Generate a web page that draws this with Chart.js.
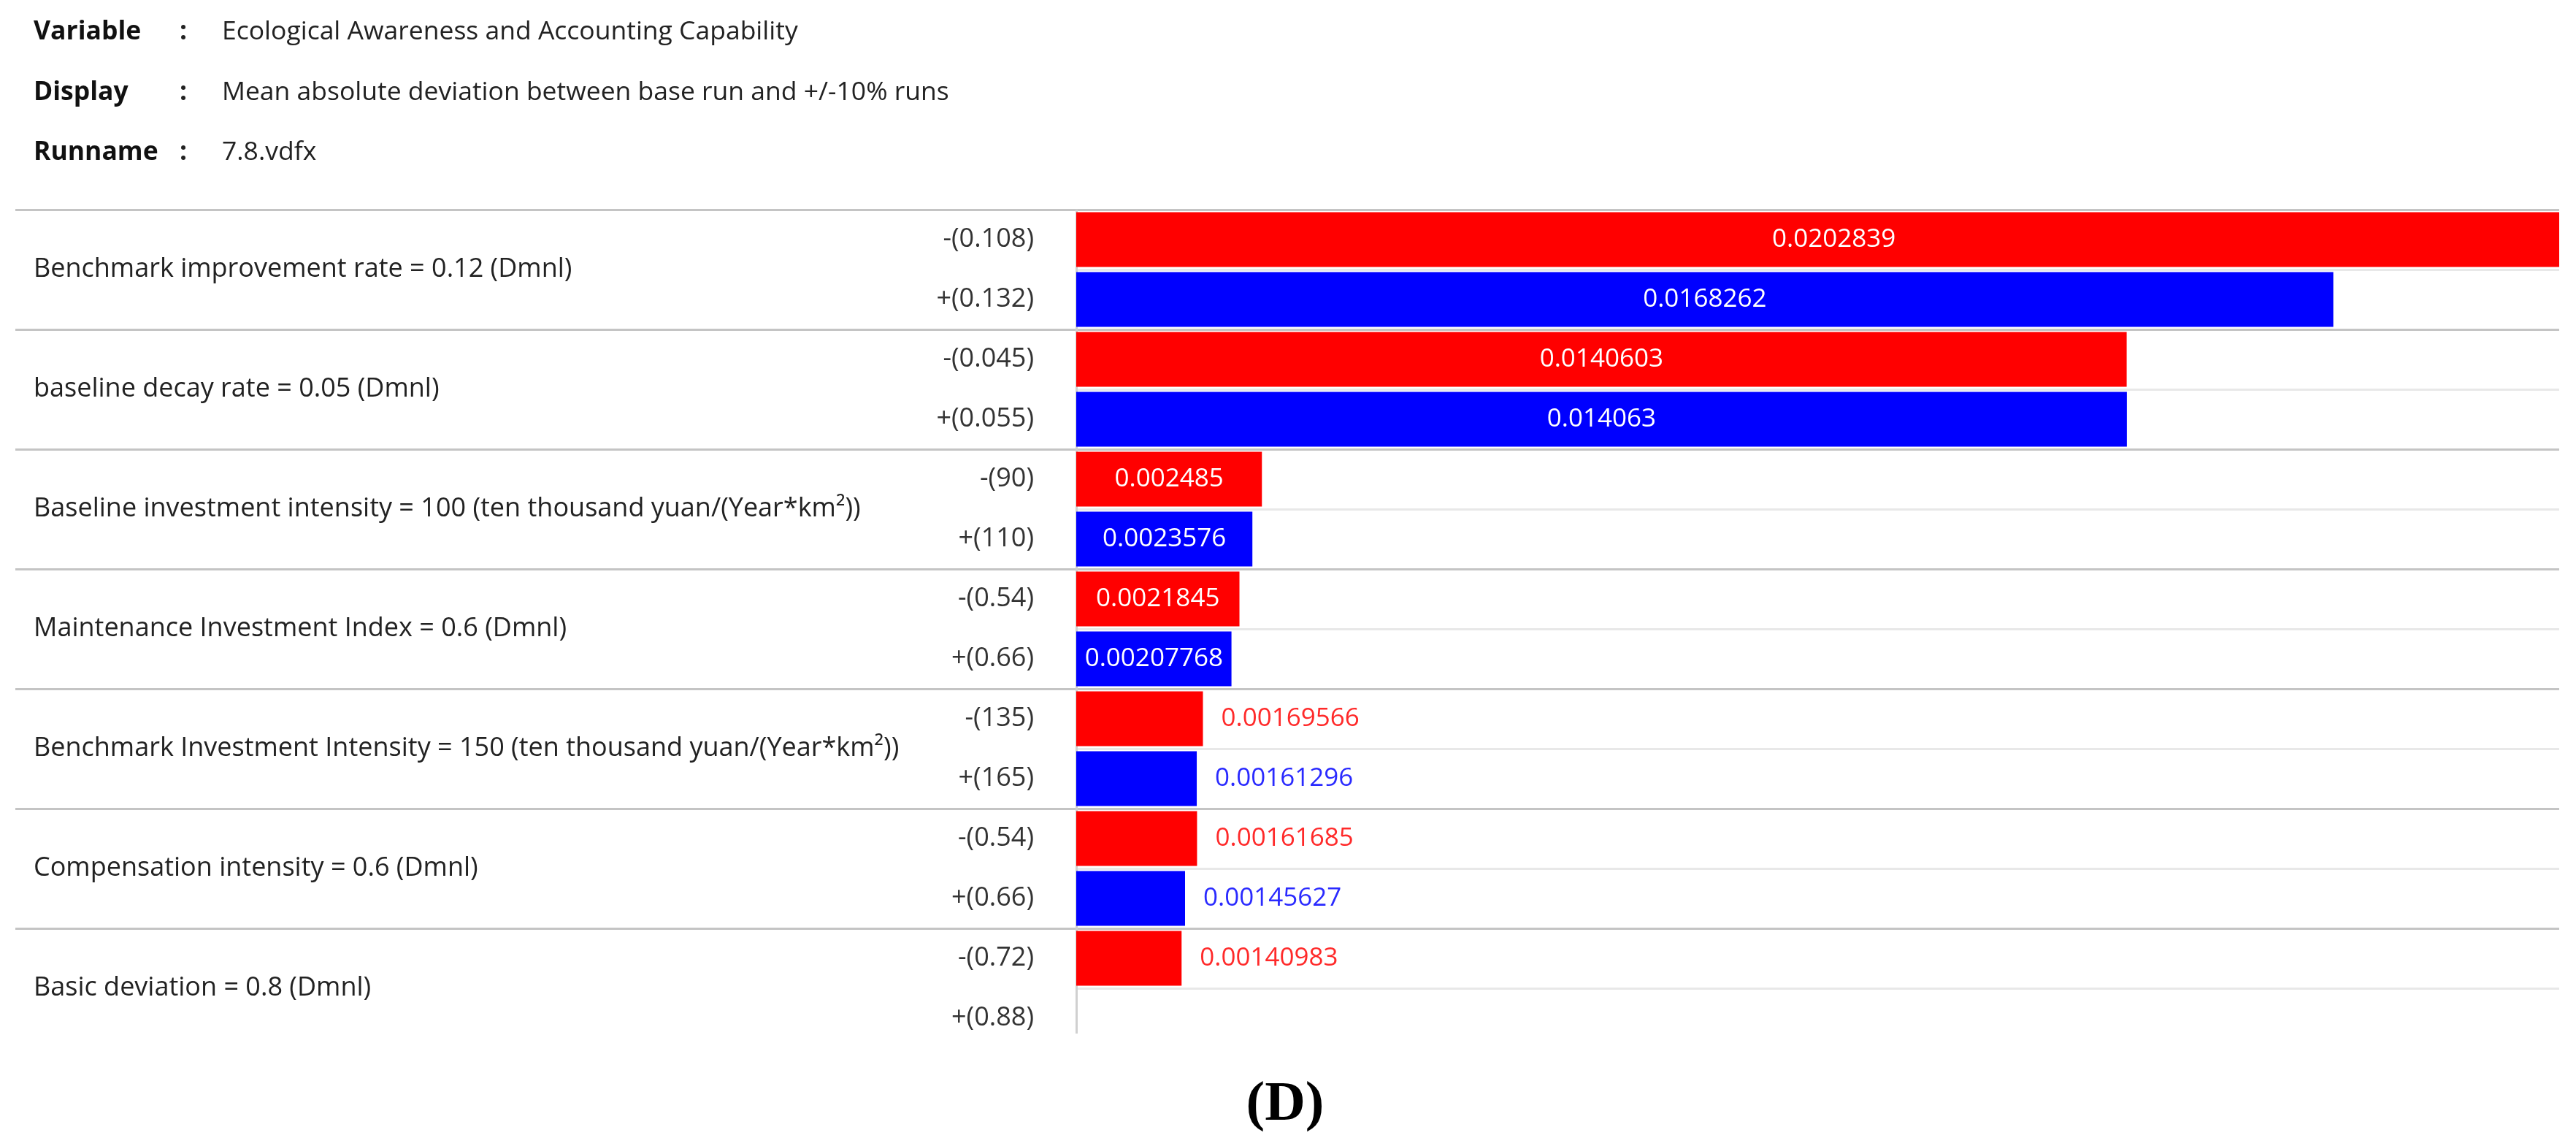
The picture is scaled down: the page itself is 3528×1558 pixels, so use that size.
<!DOCTYPE html>
<html>
<head>
<meta charset="utf-8">
<script src="https://cdn.jsdelivr.net/npm/chart.js@4.4.1/dist/chart.umd.min.js"></script>
<style>
    body { margin: 0; background: #fff; width: 3528px; height: 1558px; position: relative; overflow: hidden; font-family: "Open Sans", sans-serif; }
    #chart { position: absolute; left: 0; top: 0; }
    .meta { position: absolute; left: 0; font-size: 35.5px; color: #222; line-height: 40px; white-space: nowrap; }
    .meta b { position: absolute; left: 46px; font-weight: 700; color: #111; }
    .meta .colon { position: absolute; left: 246px; font-weight: 700; }
    .meta .val { position: absolute; left: 304px; }
    #panel { position: absolute; left: 1760px; top: 1507px; transform: translate(-50%, -50%); font-family: "Liberation Serif", serif; font-weight: 700; font-size: 77px; line-height: 1; color: #000; }
</style>
</head>
<body>
<canvas id="chart" width="3528" height="1558"></canvas>
<div class="meta" style="top:20px"><b>Variable</b><span class="colon">:</span><span class="val">Ecological Awareness and Accounting Capability</span></div>
<div class="meta" style="top:103px"><b>Display</b><span class="colon">:</span><span class="val">Mean absolute deviation between base run and +/-10% runs</span></div>
<div class="meta" style="top:185px"><b>Runname</b><span class="colon">:</span><span class="val">7.8.vdfx</span></div>
<div id="panel">(D)</div>
<script>
// parameters tested
const categories = [
    "Benchmark improvement rate = 0.12 (Dmnl)",
    "baseline decay rate = 0.05 (Dmnl)",
    "Baseline investment intensity = 100 (ten thousand yuan/(Year*km²))",
    "Maintenance Investment Index = 0.6 (Dmnl)",
    "Benchmark Investment Intensity = 150 (ten thousand yuan/(Year*km²))",
    "Compensation intensity = 0.6 (Dmnl)",
    "Basic deviation = 0.8 (Dmnl)",
];
const minusLabels = ["-(0.108)", "-(0.045)", "-(90)", "-(0.54)", "-(135)", "-(0.54)", "-(0.72)"];
const plusLabels = ["+(0.132)", "+(0.055)", "+(110)", "+(0.66)", "+(165)", "+(0.66)", "+(0.88)"];

// mean absolute deviation, -10% and +10% runs
const minusValues = [0.0202839, 0.0140603, 0.002485, 0.0021845, 0.00169566, 0.00161685, 0.00140983];
const plusValues = [0.0168262, 0.014063, 0.0023576, 0.00207768, 0.00161296, 0.00145627, null];

const axisMax = 0.01985;

const subLabels = [];
categories.forEach((c, i) => {
    subLabels.push(minusLabels[i], plusLabels[i]);
});

Chart.defaults.font.family = "'Open Sans', sans-serif";
Chart.defaults.font.size = 36;

/*
 * Row separators that run under the labels too */
const groupLines = {
    id: "groupLines",
    beforeDatasetsDraw(chart) {
        const ctx = chart.ctx;
        const yScale = chart.scales.y;
        const area = chart.chartArea;
        const half = (yScale.getPixelForValue(1) - yScale.getPixelForValue(0)) / 2;
        ctx.save();
        ctx.strokeStyle = "#c4c4c4";
        ctx.lineWidth = 3;
        for (let i = 0; i < categories.length; i++) {
            const y = Math.round(yScale.getPixelForValue(i) - half) + 0.5;
            ctx.beginPath();
            ctx.moveTo(21, y);
            ctx.lineTo(area.right, y);
            ctx.stroke();
        }
        // left edge of the bar area
        ctx.strokeStyle = "#d0d0d0";
        ctx.beginPath();
        ctx.moveTo(area.left + 0.5, area.top);
        ctx.lineTo(area.left + 0.5, area.bottom - 20);
        ctx.stroke();
        ctx.restore();
    },
};

/*
 * Value labels: inside the bar in white, or after it in the bar colour */
const valueLabels = {
    id: "valueLabels",
    afterDatasetsDraw(chart) {
        const ctx = chart.ctx;
        ctx.save();
        ctx.font = "35px 'Open Sans', sans-serif";
        ctx.textBaseline = "middle";
        chart.data.datasets.forEach((ds, i) => {
            chart.getDatasetMeta(i).data.forEach((bar, j) => {
                const v = ds.data[j];
                if (v === null || v === undefined) return;
                const text = String(v);
                const tw = ctx.measureText(text).width;
                const w = bar.x - bar.base;
                if (tw + 8 <= w) {
                    ctx.fillStyle = "#ffffff";
                    ctx.textAlign = "center";
                    ctx.fillText(text, (bar.x + bar.base) / 2, bar.y);
                } else {
                    ctx.fillStyle = ds.textColor;
                    ctx.textAlign = "left";
                    ctx.fillText(text, bar.x + 25, bar.y);
                }
            });
        });
        ctx.restore();
    },
};

new Chart(document.getElementById("chart"), {
    type: "bar",
    data: {
        labels: categories,
        datasets: [
            {
                label: "-10%",
                data: minusValues,
                backgroundColor: "#ff0000",
                textColor: "#ff2a2a",
                borderWidth: 0,
                clip: 0,
            },
            {
                label: "+10%",
                data: plusValues,
                backgroundColor: "#0000ff",
                textColor: "#2a2aff",
                borderWidth: 0,
                clip: 0,
            },
        ],
    },
    options: {
        indexAxis: "y",
        responsive: false,
        devicePixelRatio: 1,
        animation: false,
        categoryPercentage: 1,
        barPercentage: 0.915,
        layout: {
            padding: { left: 46, top: 287, right: 23, bottom: 123 },
        },
        plugins: {
            legend: { display: false },
            tooltip: { enabled: false },
        },
        scales: {
            x: {
                display: false,
                min: 0,
                max: axisMax,
            },
            y: {
                position: "left",
                weight: 10,
                offset: true,
                grid: { display: false, drawTicks: false },
                border: { display: false },
                ticks: {
                    crossAlign: "far",
                    color: "#222",
                    padding: 0,
                },
                afterFit(scale) {
                    scale.width = 1238;
                },
            },
            y2: {
                type: "category",
                axis: "y",
                position: "left",
                weight: 0,
                labels: subLabels,
                offset: true,
                grid: {
                    offset: true,
                    drawTicks: false,
                    lineWidth: 3,
                    color: (c) => (c.type === "tick" ? "#e8e8e8" : "rgba(0,0,0,0)"),
                },
                border: { display: false },
                ticks: {
                    color: "#333",
                    padding: 58,
                    autoSkip: false,
                },
                afterFit(scale) {
                    scale.width = 190;
                },
            },
        },
    },
    plugins: [groupLines, valueLabels],
});
</script>
</body>
</html>
